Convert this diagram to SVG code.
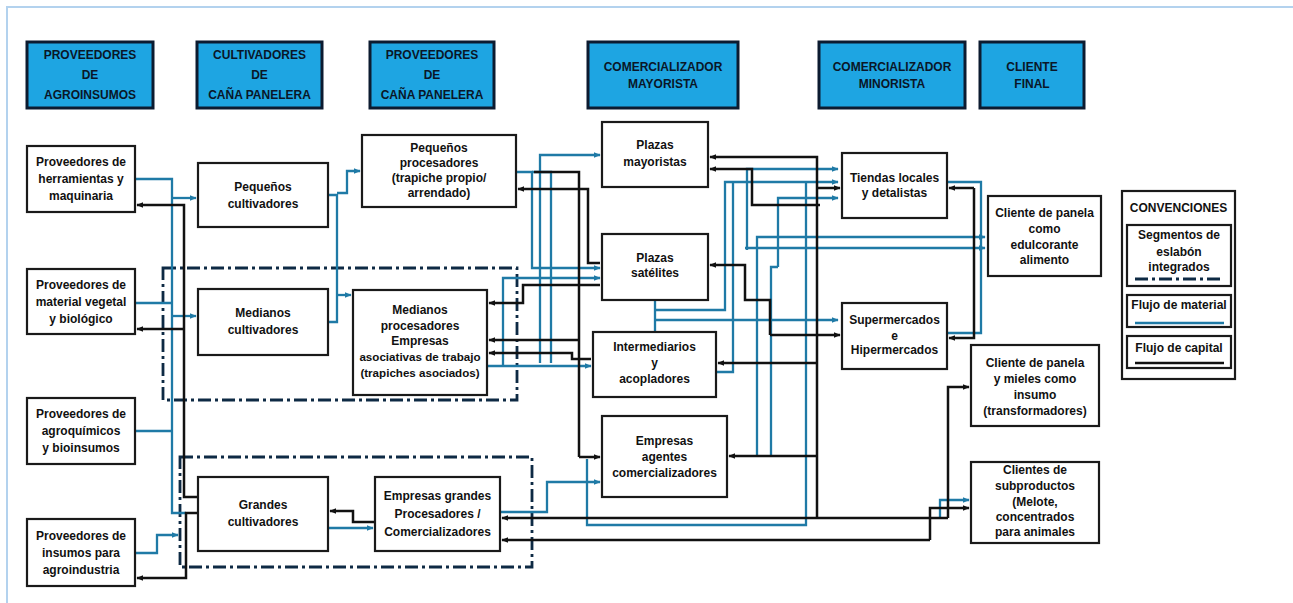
<svg xmlns="http://www.w3.org/2000/svg" width="1293" height="603" viewBox="0 0 1293 603">
<defs>
<style>
.hd rect{fill:#1ea5e2;stroke:#0c1b30;stroke-width:3}
.t{font-family:"Liberation Sans",Arial,sans-serif;font-weight:bold;font-size:12px;fill:#111;text-anchor:middle}
.hd .t{fill:#0a1628}
.nd rect{fill:#fff;stroke:#1a1a1a;stroke-width:2.2}
.bl{stroke:#1f7aa6;stroke-width:2.3;fill:none}
.bk{stroke:#111;stroke-width:2.5;fill:none}
.dd{stroke:#0e2a44;stroke-width:2.8;fill:none;stroke-dasharray:13 4 3 4}
</style>
<marker id="ak" viewBox="0 0 10 10" refX="9" refY="5" markerWidth="7" markerHeight="7" markerUnits="userSpaceOnUse" orient="auto"><path d="M0,1 L10,5 L0,9 z" fill="#111"/></marker>
<marker id="ab" viewBox="0 0 10 10" refX="9" refY="5" markerWidth="7" markerHeight="7" markerUnits="userSpaceOnUse" orient="auto"><path d="M0,1 L10,5 L0,9 z" fill="#1f7aa6"/></marker>
</defs>
<rect width="1293" height="603" fill="#fff"/>
<path d="M7 603 V7 H1293" fill="none" stroke="#b3d2ee" stroke-width="2"/>

<!-- integrated segment regions -->
<g id="regions">
<rect class="dd" x="163" y="268" width="354" height="132"/>
<rect class="dd" x="180" y="457" width="352" height="110"/>
</g>

<!-- headers -->
<g id="h1" class="hd"><rect x="27" y="42" width="126" height="66"/><text class="t" x="90" y="59">PROVEEDORES</text><text class="t" x="90" y="79">DE</text><text class="t" x="90" y="99">AGROINSUMOS</text></g>
<g id="h2" class="hd"><rect x="197" y="42" width="125" height="66"/><text class="t" x="259.5" y="59">CULTIVADORES</text><text class="t" x="259.5" y="79">DE</text><text class="t" x="259.5" y="99">CAÑA PANELERA</text></g>
<g id="h3" class="hd"><rect x="370" y="42" width="124" height="66"/><text class="t" x="432" y="59">PROVEEDORES</text><text class="t" x="432" y="79">DE</text><text class="t" x="432" y="99">CAÑA PANELERA</text></g>
<g id="h4" class="hd"><rect x="588" y="42" width="150" height="66"/><text class="t" x="663" y="71">COMERCIALIZADOR</text><text class="t" x="663" y="88">MAYORISTA</text></g>
<g id="h5" class="hd"><rect x="819" y="42" width="146" height="66"/><text class="t" x="892" y="71">COMERCIALIZADOR</text><text class="t" x="892" y="88">MINORISTA</text></g>
<g id="h6" class="hd"><rect x="980" y="42" width="104" height="66"/><text class="t" x="1032" y="71">CLIENTE</text><text class="t" x="1032" y="88">FINAL</text></g>

<!-- connectors -->
<g id="connectors">
<!-- left: material -->
<path class="bl" d="M135 179 H172 V513 H186"/>
<path class="bl" d="M172 198 H196" marker-end="url(#ab)"/>
<path class="bl" d="M135 303 H172"/>
<path class="bl" d="M172 316 H196" marker-end="url(#ab)"/>
<path class="bl" d="M135 431 H172"/>
<path class="bl" d="M135 553 H157 V535 H178" marker-end="url(#ab)"/>
<path class="bl" d="M328 195 H337 V322 H328"/>
<path class="bl" d="M337 193 H347 V171 H360" marker-end="url(#ab)"/>
<path class="bl" d="M337 295 H351" marker-end="url(#ab)"/>
<path class="bl" d="M328 528 H373" marker-end="url(#ab)"/>
<!-- left: capital -->
<path class="bk" d="M198 497 H184 V205 H137" marker-end="url(#ak)"/>
<path class="bk" d="M184 329 H137" marker-end="url(#ak)"/>
<path class="bk" d="M198 513 H186 V578 H137" marker-end="url(#ak)"/>
<path class="bk" d="M375 522 H353 V511 H330" marker-end="url(#ak)"/>

<!-- middle: material -->
<path class="bl" d="M516 172 H532 V268 H600" marker-end="url(#ab)"/>
<path class="bl" d="M540 363 V155 H600" marker-end="url(#ab)"/>
<path class="bl" d="M532 172 H551 V363"/>
<path class="bl" d="M487 366 H591" marker-end="url(#ab)"/>
<path class="bl" d="M503 366 V278 H600" marker-end="url(#ab)"/>
<path class="bl" d="M500 512 H547 V482 H600" marker-end="url(#ab)"/>
<path class="bl" d="M587 459 V525 H806 V183"/>
<path class="bl" d="M655 300 V332"/>
<!-- middle: capital -->
<path class="bk" d="M579 457 V172 H534"/>
<path class="bk" d="M600 263 H588 V189 H518" marker-end="url(#ak)"/>
<path class="bk" d="M600 285 H523 V303 H489" marker-end="url(#ak)"/>
<path class="bk" d="M579 340 H489" marker-end="url(#ak)"/>
<path class="bk" d="M591 359 H572 V353 H489" marker-end="url(#ak)"/>
<path class="bk" d="M579 457 H600" marker-end="url(#ak)"/>

<!-- right: material -->
<path class="bl" d="M655 310 H725 V182 H838" marker-end="url(#ab)"/>
<path class="bl" d="M747 250 V169 H838" marker-end="url(#ab)"/>
<path class="bl" d="M745 248 H985" marker-end="url(#ab)"/>
<path class="bl" d="M778 267 V198 H838" marker-end="url(#ab)"/>
<path class="bl" d="M757 456 V237 H985" marker-end="url(#ab)"/>
<path class="bl" d="M771 456 V267 H778"/>
<path class="bl" d="M716 372 H733 V182"/>
<path class="bl" d="M655 320 H838" marker-end="url(#ab)"/>
<path class="bl" d="M947 182 H981 V333 H947"/>
<path class="bl" d="M940 518 V500 H969" marker-end="url(#ab)"/>
<!-- right: capital -->
<path class="bk" d="M817 518 V157 H710" marker-end="url(#ak)"/>
<path class="bk" d="M820 205 H752 V169 H710" marker-end="url(#ak)"/>
<path class="bk" d="M817 188 H840" marker-end="url(#ak)"/>
<path class="bk" d="M770 335 V300 H745 V265 H710" marker-end="url(#ak)"/>
<path class="bk" d="M770 335 H840" marker-end="url(#ak)"/>
<path class="bk" d="M817 363 H718" marker-end="url(#ak)"/>
<path class="bk" d="M817 456 H729" marker-end="url(#ak)"/>
<path class="bk" d="M974 188 H949" marker-end="url(#ak)"/>
<path class="bk" d="M974 188 V338 H949" marker-end="url(#ak)"/>
<path class="bk" d="M948 518 H502" marker-end="url(#ak)"/>
<path class="bk" d="M948 518 V387 H969" marker-end="url(#ak)"/>
<path class="bk" d="M930 540 H502" marker-end="url(#ak)"/>
<path class="bk" d="M930 540 V508 H969" marker-end="url(#ak)"/>
</g>

<!-- nodes -->
<g id="n_herr" class="nd"><rect x="27" y="146" width="108" height="66"/><text class="t" x="81" y="166">Proveedores de</text><text class="t" x="81" y="183">herramientas y</text><text class="t" x="81" y="200">maquinaria</text></g>
<g id="n_mat" class="nd"><rect x="27" y="269" width="108" height="65"/><text class="t" x="81" y="289">Proveedores de</text><text class="t" x="81" y="306">material vegetal</text><text class="t" x="81" y="323">y biológico</text></g>
<g id="n_agro" class="nd"><rect x="27" y="398" width="108" height="66"/><text class="t" x="81" y="418">Proveedores de</text><text class="t" x="81" y="435">agroquímicos</text><text class="t" x="81" y="452">y bioinsumos</text></g>
<g id="n_ins" class="nd"><rect x="27" y="519" width="108" height="67"/><text class="t" x="81" y="540">Proveedores de</text><text class="t" x="81" y="557">insumos para</text><text class="t" x="81" y="574">agroindustria</text></g>

<g id="n_pcult" class="nd"><rect x="198" y="163" width="130" height="64"/><text class="t" x="263" y="191">Pequeños</text><text class="t" x="263" y="208">cultivadores</text></g>
<g id="n_mcult" class="nd"><rect x="198" y="289" width="130" height="66"/><text class="t" x="263" y="317">Medianos</text><text class="t" x="263" y="334">cultivadores</text></g>
<g id="n_gcult" class="nd"><rect x="198" y="477" width="130" height="74"/><text class="t" x="263" y="509">Grandes</text><text class="t" x="263" y="526">cultivadores</text></g>

<g id="n_pproc" class="nd"><rect x="362" y="135" width="154" height="72"/><text class="t" x="439" y="152">Pequeños</text><text class="t" x="439" y="167">procesadores</text><text class="t" x="439" y="182">(trapiche propio/</text><text class="t" x="439" y="197">arrendado)</text></g>
<g id="n_mproc" class="nd"><rect x="353" y="290" width="134" height="105"/><text class="t" x="420" y="314">Medianos</text><text class="t" x="420" y="330">procesadores</text><text class="t" x="420" y="345">Empresas</text><text class="t" x="420" y="361" style="font-size:11.6px">asociativas de trabajo</text><text class="t" x="420" y="377" style="font-size:11.6px">(trapiches asociados)</text></g>
<g id="n_egp" class="nd"><rect x="375" y="477" width="125" height="74"/><text class="t" x="437.5" y="500">Empresas grandes</text><text class="t" x="437.5" y="518">Procesadores /</text><text class="t" x="437.5" y="536">Comercializadores</text></g>

<g id="n_pmay" class="nd"><rect x="602" y="122" width="106" height="65"/><text class="t" x="655" y="149">Plazas</text><text class="t" x="655" y="166">mayoristas</text></g>
<g id="n_psat" class="nd"><rect x="602" y="234" width="106" height="66"/><text class="t" x="655" y="262">Plazas</text><text class="t" x="655" y="277">satélites</text></g>
<g id="n_inter" class="nd"><rect x="593" y="332" width="123" height="65"/><text class="t" x="654.5" y="351">Intermediarios</text><text class="t" x="654.5" y="367">y</text><text class="t" x="654.5" y="383">acopladores</text></g>
<g id="n_eac" class="nd"><rect x="602" y="416" width="125" height="81"/><text class="t" x="664.5" y="445">Empresas</text><text class="t" x="664.5" y="461">agentes</text><text class="t" x="664.5" y="477">comercializadores</text></g>

<g id="n_tiendas" class="nd"><rect x="842" y="153" width="105" height="65"/><text class="t" x="894.5" y="182">Tiendas locales</text><text class="t" x="894.5" y="197">y detalistas</text></g>
<g id="n_super" class="nd"><rect x="842" y="303" width="105" height="66"/><text class="t" x="894.5" y="324">Supermercados</text><text class="t" x="894.5" y="340">e</text><text class="t" x="894.5" y="354">Hipermercados</text></g>

<g id="n_cedul" class="nd"><rect x="988" y="196" width="113" height="80"/><text class="t" x="1044.5" y="217">Cliente de panela</text><text class="t" x="1044.5" y="233">como</text><text class="t" x="1044.5" y="249">edulcorante</text><text class="t" x="1044.5" y="264">alimento</text></g>
<g id="n_cins" class="nd"><rect x="971" y="345" width="128" height="81"/><text class="t" x="1035" y="367">Cliente de panela</text><text class="t" x="1035" y="383">y mieles como</text><text class="t" x="1035" y="399">insumo</text><text class="t" x="1035" y="415">(transformadores)</text></g>
<g id="n_csub" class="nd"><rect x="971" y="462" width="128" height="81"/><text class="t" x="1035" y="474">Clientes de</text><text class="t" x="1035" y="490">subproductos</text><text class="t" x="1035" y="506">(Melote,</text><text class="t" x="1035" y="521">concentrados</text><text class="t" x="1035" y="536">para animales</text></g>

<g id="legend" class="nd">
<rect x="1122" y="191" width="113" height="188"/>
<text class="t" x="1178.5" y="212">CONVENCIONES</text>
<rect x="1127" y="225" width="104" height="61"/>
<text class="t" x="1179" y="239">Segmentos de</text><text class="t" x="1179" y="256">eslabón</text><text class="t" x="1179" y="271">integrados</text>
<path class="dd" d="M1135 279 H1224"/>
<rect x="1127" y="295" width="104" height="32"/>
<text class="t" x="1179" y="309">Flujo de material</text>
<path class="bl" d="M1135 323 H1224"/>
<rect x="1127" y="336" width="104" height="32"/>
<text class="t" x="1179" y="352">Flujo de capital</text>
<path class="bk" d="M1135 363 H1224"/>
</g>
</svg>
